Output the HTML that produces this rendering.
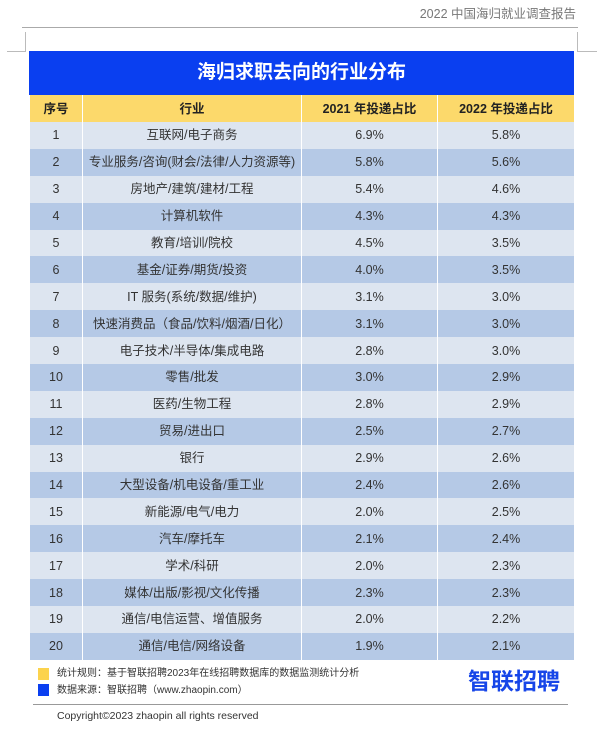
<!DOCTYPE html><html><head><meta charset="utf-8"><style>
body{margin:0;width:600px;height:731px;background:#fff;position:relative;font-family:"Liberation Sans","Noto Sans CJK SC",sans-serif;overflow:hidden}
.a{position:absolute;line-height:1.2}
table{position:absolute;left:29px;top:95px;width:545px;border-collapse:collapse;table-layout:fixed}
td{height:26.9px;padding:0;text-align:center;vertical-align:middle;font-size:12.5px;line-height:14px;color:#333;border-left:1px solid #fff;border-right:1px solid #fff;overflow:hidden}
tr.h td{height:27px;background:#fcd96b;font-weight:bold;color:#222;font-size:12.5px}
tr:nth-child(even) td{background:#dde5f0}
tr:nth-child(odd):not(.h) td{background:#b5c9e6}
</style></head><body>
<div class="a" style="right:24px;top:7px;font-size:12.5px;color:#777">2022 中国海归就业调查报告</div>
<div class="a" style="left:22px;top:27px;width:556px;height:1px;background:#aaa"></div>
<div class="a" style="left:25px;top:32px;width:1px;height:19px;background:#bbb"></div>
<div class="a" style="left:7px;top:51px;width:19px;height:1px;background:#bbb"></div>
<div class="a" style="left:577px;top:32px;width:1px;height:19px;background:#bbb"></div>
<div class="a" style="left:577px;top:51px;width:20px;height:1px;background:#bbb"></div>
<div class="a" style="left:29px;top:51px;width:545px;height:44px;background:#0a3ff0;color:#fff;font-size:19px;font-weight:bold;text-align:center;line-height:44px">海归求职去向的行业分布</div>
<table>
<colgroup><col style="width:53px"><col style="width:219px"><col style="width:136px"><col style="width:137px"></colgroup>
<tr class="h"><td>序号</td><td>行业</td><td>2021 年投递占比</td><td>2022 年投递占比</td></tr>
<tr><td>1</td><td>互联网/电子商务</td><td>6.9%</td><td>5.8%</td></tr>
<tr><td>2</td><td>专业服务/咨询(财会/法律/人力资源等)</td><td>5.8%</td><td>5.6%</td></tr>
<tr><td>3</td><td>房地产/建筑/建材/工程</td><td>5.4%</td><td>4.6%</td></tr>
<tr><td>4</td><td>计算机软件</td><td>4.3%</td><td>4.3%</td></tr>
<tr><td>5</td><td>教育/培训/院校</td><td>4.5%</td><td>3.5%</td></tr>
<tr><td>6</td><td>基金/证券/期货/投资</td><td>4.0%</td><td>3.5%</td></tr>
<tr><td>7</td><td>IT 服务(系统/数据/维护)</td><td>3.1%</td><td>3.0%</td></tr>
<tr><td>8</td><td>快速消费品（食品/饮料/烟酒/日化）</td><td>3.1%</td><td>3.0%</td></tr>
<tr><td>9</td><td>电子技术/半导体/集成电路</td><td>2.8%</td><td>3.0%</td></tr>
<tr><td>10</td><td>零售/批发</td><td>3.0%</td><td>2.9%</td></tr>
<tr><td>11</td><td>医药/生物工程</td><td>2.8%</td><td>2.9%</td></tr>
<tr><td>12</td><td>贸易/进出口</td><td>2.5%</td><td>2.7%</td></tr>
<tr><td>13</td><td>银行</td><td>2.9%</td><td>2.6%</td></tr>
<tr><td>14</td><td>大型设备/机电设备/重工业</td><td>2.4%</td><td>2.6%</td></tr>
<tr><td>15</td><td>新能源/电气/电力</td><td>2.0%</td><td>2.5%</td></tr>
<tr><td>16</td><td>汽车/摩托车</td><td>2.1%</td><td>2.4%</td></tr>
<tr><td>17</td><td>学术/科研</td><td>2.0%</td><td>2.3%</td></tr>
<tr><td>18</td><td>媒体/出版/影视/文化传播</td><td>2.3%</td><td>2.3%</td></tr>
<tr><td>19</td><td>通信/电信运营、增值服务</td><td>2.0%</td><td>2.2%</td></tr>
<tr><td>20</td><td>通信/电信/网络设备</td><td>1.9%</td><td>2.1%</td></tr>
</table>
<div class="a" style="left:38px;top:668px;width:11px;height:12px;background:#fcd34d"></div>
<div class="a" style="left:38px;top:684px;width:11px;height:12px;background:#0a3ff0"></div>
<div class="a" style="left:57px;top:668px;font-size:10px;color:#333">统计规则：基于智联招聘2023年在线招聘数据库的数据监测统计分析</div>
<div class="a" style="left:57px;top:685px;font-size:10px;color:#333">数据来源：智联招聘（www.zhaopin.com）</div>
<div class="a" style="left:468px;top:668px;font-size:23px;font-weight:bold;color:#1746e8">智联招聘</div>
<div class="a" style="left:33px;top:704px;width:535px;height:1px;background:#999"></div>
<div class="a" style="left:57px;top:710px;font-size:10.5px;color:#333">Copyright©2023 zhaopin all rights reserved</div>
</body></html>
